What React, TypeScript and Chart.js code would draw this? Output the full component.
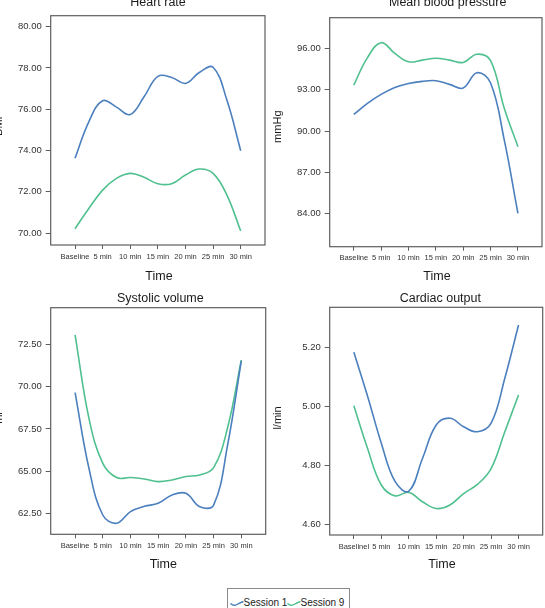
import { useEffect, useRef } from 'react';
import { Chart, registerables } from 'chart.js';

Chart.register(...registerables);

// Time axis: curves sampled every 2.5 min, labelled every 5 min
const sampleMinutes = [0, 2.5, 5, 7.5, 10, 12.5, 15, 17.5, 20, 22.5, 25, 27.5, 30];
const tickMinutes = [0, 5, 10, 15, 20, 25, 30];
const timeLabels = ['Baseline', '5 min', '10 min', '15 min', '20 min', '25 min', '30 min'];
const outputTimeLabels = ['Baselinel', '5 min', '10 min', '15 min', '20 min', '25 min', '30 min'];

const seriesNames = ['Session 1', 'Session 9'];

// Heart rate (BMP)
const heartRateS1 = [73.62, 75.39, 76.41, 76.1, 75.74, 76.6, 77.59, 77.54, 77.25, 77.78, 78.03, 76.44, 73.99];
const heartRateS9 = [70.21, 71.19, 72.08, 72.65, 72.89, 72.7, 72.39, 72.39, 72.81, 73.1, 72.89, 71.84, 70.1];
const heartRateTicks = [70, 72, 74, 76, 78, 80];

// Mean blood pressure (mmHg)
const pressureS1 = [91.21, 92.02, 92.67, 93.18, 93.47, 93.62, 93.67, 93.4, 93.13, 94.25, 93.5, 89.35, 84.0];
const pressureS9 = [93.35, 95.35, 96.44, 95.66, 95.05, 95.17, 95.3, 95.17, 95.0, 95.6, 95.13, 91.66, 88.86];
const pressureTicks = [84, 87, 90, 93, 96];

// Systolic volume (ml)
const volumeS1 = [69.65, 65.18, 62.42, 61.93, 62.62, 62.93, 63.11, 63.6, 63.7, 62.91, 63.0, 66.5, 71.52];
const volumeS9 = [73.05, 68.13, 65.47, 64.63, 64.63, 64.55, 64.39, 64.49, 64.69, 64.78, 65.22, 67.54, 71.57];
const volumeTicks = [62.5, 65, 67.5, 70, 72.5];

// Cardiac output (l/min)
const outputS1 = [5.184, 5.035, 4.875, 4.745, 4.712, 4.823, 4.937, 4.96, 4.931, 4.914, 4.943, 5.096, 5.277];
const outputS9 = [5.002, 4.857, 4.733, 4.696, 4.708, 4.676, 4.653, 4.665, 4.704, 4.735, 4.789, 4.914, 5.039];
const outputTicks = [4.6, 4.8, 5.0, 5.2];

const COLORS = ['#4b7fbd', '#50c08f'];
const FONT = '"Liberation Sans", Arial, Helvetica, sans-serif';

type PanelSpec = {
  left: number;
  top: number;
  width: number;
  height: number;
  title: string;
  titleX: number;
  titleY: number;
  timeX: number;
  timeY: number;
  unit: string;
  unitX: number;
  unitY: number;
  labels: string[];
  s1: number[];
  s9: number[];
  yTicks: number[];
  yMin: number;
  yMax: number;
  padTop: number;
  padRight: number;
  yWidth: number;
  xHeight: number;
};

const panelDecor = {
  id: 'panelDecor',
  afterDraw(chart: any, _args: any, opts: any) {
    const { ctx, chartArea: a } = chart;
    ctx.save();
    ctx.strokeStyle = '#5e5e5e';
    ctx.lineWidth = 1.2;
    ctx.strokeRect(a.left, a.top, a.right - a.left, a.bottom - a.top);
    ctx.fillStyle = '#1a1a1a';
    ctx.textAlign = 'center';
    ctx.textBaseline = 'alphabetic';
    ctx.font = `12.5px ${FONT}`;
    ctx.fillText(opts.title, opts.titleX, opts.titleY);
    ctx.fillText('Time', opts.timeX, opts.timeY);
    ctx.translate(opts.unitX, opts.unitY);
    ctx.rotate(-Math.PI / 2);
    ctx.font = `11px ${FONT}`;
    ctx.textBaseline = 'middle';
    ctx.fillText(opts.unit, 0, 0);
    ctx.restore();
  },
};

function Panel({ spec }: { spec: PanelSpec }) {
  const ref = useRef<HTMLCanvasElement | null>(null);
  useEffect(() => {
    if (!ref.current) return;
    const toPoints = (vals: number[]) => vals.map((y, i) => ({ x: sampleMinutes[i], y }));
    const chart = new Chart(ref.current, {
      type: 'line',
      data: {
        datasets: [
          {
            label: seriesNames[0],
            data: toPoints(spec.s1),
            borderColor: COLORS[0],
            borderWidth: 1.6,
            pointRadius: 0,
            tension: 0.4,
            fill: false,
          },
          {
            label: seriesNames[1],
            data: toPoints(spec.s9),
            borderColor: COLORS[1],
            borderWidth: 1.6,
            pointRadius: 0,
            tension: 0.4,
            fill: false,
          },
        ],
      },
      options: {
        animation: false,
        responsive: false,
        maintainAspectRatio: false,
        devicePixelRatio: 1,
        layout: { padding: { top: spec.padTop, right: spec.padRight, left: 0, bottom: 0 } },
        plugins: {
          legend: { display: false },
          tooltip: { enabled: false },
          panelDecor: {
            title: spec.title,
            titleX: spec.titleX,
            titleY: spec.titleY,
            timeX: spec.timeX,
            timeY: spec.timeY,
            unit: spec.unit,
            unitX: spec.unitX,
            unitY: spec.unitY,
          },
        } as any,
        scales: {
          x: {
            type: 'linear',
            min: -4.4,
            max: 34.4,
            afterBuildTicks: (s: any) => {
              s.ticks = tickMinutes.map((v) => ({ value: v }));
            },
            afterFit: (s: any) => {
              s.height = spec.xHeight;
            },
            grid: {
              display: true,
              drawOnChartArea: false,
              drawTicks: true,
              tickLength: 4,
              color: '#5e5e5e',
              lineWidth: 1,
            },
            border: { display: false },
            ticks: {
              autoSkip: false,
              maxRotation: 0,
              minRotation: 0,
              padding: 3,
              color: '#333',
              font: { size: 7.5, family: FONT },
              callback: (_v: any, i: number) => spec.labels[i] ?? '',
            },
          },
          y: {
            type: 'linear',
            min: spec.yMin,
            max: spec.yMax,
            afterBuildTicks: (s: any) => {
              s.ticks = spec.yTicks.map((v) => ({ value: v }));
            },
            afterFit: (s: any) => {
              s.width = spec.yWidth;
            },
            grid: {
              display: true,
              drawOnChartArea: false,
              drawTicks: true,
              tickLength: 5,
              color: '#5e5e5e',
              lineWidth: 1,
            },
            border: { display: false },
            ticks: {
              padding: 4,
              color: '#333',
              font: { size: 9.5, family: FONT },
              callback: (v: any) => Number(v).toFixed(2),
            },
          },
        },
      } as any,
      plugins: [panelDecor as any],
    });
    return () => chart.destroy();
  }, [spec]);

  return (
    <canvas
      ref={ref}
      width={spec.width}
      height={spec.height}
      style={{
        position: 'absolute',
        left: spec.left,
        top: spec.top,
        width: spec.width,
        height: spec.height,
      }}
    />
  );
}

const panels: PanelSpec[] = [
  {
    left: 0, top: 0, width: 272, height: 285,
    title: 'Heart rate', titleX: 158, titleY: 6,
    timeX: 159, timeY: 280,
    unit: 'BMP', unitX: -1, unitY: 124,
    labels: timeLabels, s1: heartRateS1, s9: heartRateS9,
    yTicks: heartRateTicks, yMin: 69.42, yMax: 80.53,
    padTop: 15.7, padRight: 7, yWidth: 50.7, xHeight: 40,
  },
  {
    left: 272, top: 0, width: 273, height: 285,
    title: 'Mean blood pressure', titleX: 175.7, titleY: 5.5,
    timeX: 165, timeY: 280,
    unit: 'mmHg', unitX: 6, unitY: 126.7,
    labels: timeLabels, s1: pressureS1, s9: pressureS9,
    yTicks: pressureTicks, yMin: 81.57, yMax: 98.26,
    padTop: 17.7, padRight: 3, yWidth: 57.7, xHeight: 38.3,
  },
  {
    left: 0, top: 285, width: 272, height: 290,
    title: 'Systolic volume', titleX: 160.3, titleY: 17.3,
    timeX: 163.3, timeY: 283.3,
    unit: 'ml', unitX: -1, unitY: 133,
    labels: timeLabels, s1: volumeS1, s9: volumeS9,
    yTicks: volumeTicks, yMin: 61.28, yMax: 74.66,
    padTop: 22.7, padRight: 6.3, yWidth: 50.7, xHeight: 40.7,
  },
  {
    left: 272, top: 285, width: 273, height: 290,
    title: 'Cardiac output', titleX: 168.3, titleY: 16.7,
    timeX: 170, timeY: 283.3,
    unit: 'l/min', unitX: 5.5, unitY: 133,
    labels: outputTimeLabels, s1: outputS1, s9: outputS9,
    yTicks: outputTicks, yMin: 4.563, yMax: 5.337,
    padTop: 22.3, padRight: 2.3, yWidth: 57.7, xHeight: 40,
  },
];

function LegendMark({ color, left }: { color: string; left: number }) {
  return (
    <svg
      width={14}
      height={8}
      style={{ position: 'absolute', left, top: 10 }}
    >
      <path d="M0.5 4.5 Q3.5 7.5 7 5.5 T13.5 2.5" stroke={color} strokeWidth={1.4} fill="none" />
    </svg>
  );
}

export default function App() {
  return (
    <div
      style={{
        position: 'absolute',
        left: 0,
        top: 0,
        width: 545,
        height: 608,
        overflow: 'hidden',
        background: '#fff',
      }}
    >
      {panels.map((p) => (
        <Panel key={p.title} spec={p} />
      ))}
      <div
        style={{
          position: 'absolute',
          left: 226.5,
          top: 587.5,
          width: 123.5,
          height: 30,
          border: '1px solid #8a8a8a',
          boxSizing: 'border-box',
          fontFamily: FONT,
          fontSize: 10,
          color: '#222',
        }}
      >
        <LegendMark color={COLORS[0]} left={2} />
        <span style={{ position: 'absolute', left: 16, top: 8, lineHeight: '12px', whiteSpace: 'nowrap' }}>
          {seriesNames[0]}
        </span>
        <LegendMark color={COLORS[1]} left={59} />
        <span style={{ position: 'absolute', left: 73, top: 8, lineHeight: '12px', whiteSpace: 'nowrap' }}>
          {seriesNames[1]}
        </span>
      </div>
    </div>
  );
}
